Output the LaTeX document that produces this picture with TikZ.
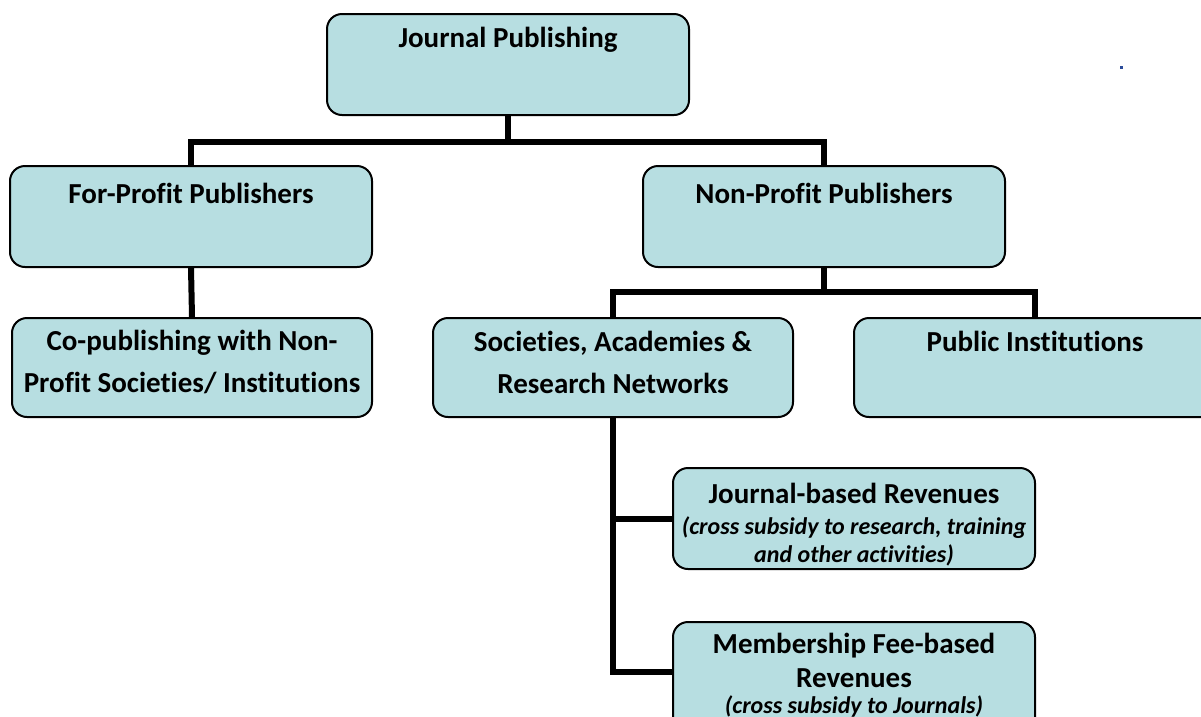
\documentclass[tikz,border=0pt]{standalone}
\usepackage{fontspec}
\setmainfont{Carlito}[RawFeature=-liga]
\definecolor{boxfill}{HTML}{B7DEE1}
\definecolor{dotblue}{HTML}{2B4C9A}
\begin{document}
\begin{tikzpicture}[x=1pt,y=-1pt,
  box/.style={draw=black, line width=2pt, fill=boxfill, rounded corners=15pt,
    minimum width=362pt, inner sep=0pt},
  lbl/.style={align=center, font=\fontsize{29}{42}\selectfont\bfseries, inner sep=0pt},
  lbltight/.style={align=center, font=\fontsize{29}{34}\selectfont\bfseries, inner sep=0pt},
  sub/.style={align=center, font=\fontsize{24}{28}\selectfont\bfseries\itshape, inner sep=0pt},
  conn/.style={draw=black, line width=6pt}]
\useasboundingbox (0,0) rectangle (1201,716);
% boxes
\node[box, minimum height=101pt] (jp) at (508,64.5) {};
\node[box, minimum height=101pt] (fp) at (191,216.5) {};
\node[box, minimum height=101pt] (np) at (824,216.5) {};
\node[box, minimum height=99pt, minimum width=360pt] (cp) at (192,367.5) {};
\node[box, minimum height=99pt, minimum width=360pt] (so) at (613,367.5) {};
\node[box, minimum height=99pt] (pi) at (1035,367.5) {};
\node[box, minimum height=101pt] (jr) at (854,518.5) {};
\node[box, minimum height=120pt] (mr) at (854,682) {};
% connectors
\coordinate (j1) at (508,142);
\coordinate (j2) at (824,292);
\coordinate (j3) at (613,672);
\draw[conn] (jp.south) -- (j1);
\draw[conn] (fp.north) -- (fp.north |- j1) -- (np.north |- j1) -- (np.north);
\draw[conn] (fp.south) -- (cp.north);
\draw[conn] (np.south) -- (j2);
\draw[conn] (so.north) -- (so.north |- j2) -- (pi.north |- j2) -- (pi.north);
\draw[conn] (so.south) -- (j3) -- (j3 -| mr.west);
\draw[conn] (so.south |- jr.west) -- (jr.west);
% labels
\node[lbl] (jpt) at (508,40) {Journal Publishing};
\node[lbl] (fpt) at (191,193) {For-Profit Publishers};
\node[lbl] (npt) at (824,193) {Non-Profit Publishers};
\node[lbl] (cpt) at (192,362) {Co-publishing with Non-\\Profit Societies/ Institutions};
\node[lbl] (sot) at (613,362) {Societies, Academies \&\\Research Networks};
\node[lbl] (pit) at (1035,341) {Public Institutions};
\node[lbl] (jrt) at (854,493) {Journal-based Revenues};
\node[sub] (jrs) at (854,541) {(cross subsidy to research, training\\and other activities)};
\node[lbltight] (mrt) at (854,660) {Membership Fee-based\\Revenues};
\node[sub] (mrs) at (854,706) {(cross subsidy to Journals)};
% stray dot
\fill[dotblue] (1120,66) rectangle (1122.5,68.5);
\end{tikzpicture}
\end{document}
